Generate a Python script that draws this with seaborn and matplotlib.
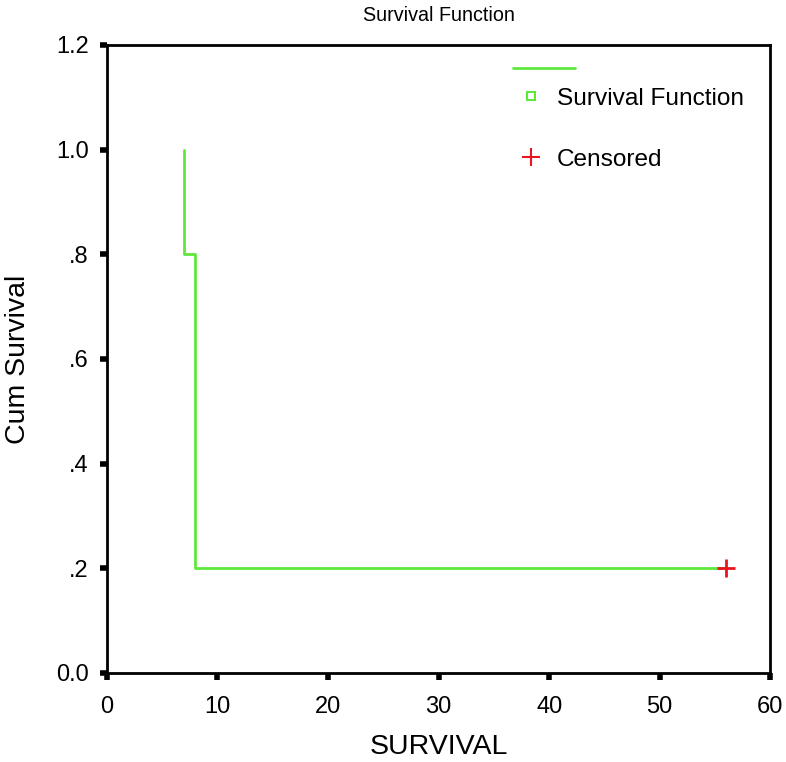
import matplotlib
matplotlib.use('Agg')
import matplotlib.pyplot as plt
from matplotlib.lines import Line2D
import seaborn as sns
import pandas as pd

# Kaplan-Meier step points (time, cumulative survival)
survival_time = [7, 7, 8, 8, 56]
cum_survival = [1.0, 0.8, 0.8, 0.2, 0.2]

# censored cases
censor_time = [56]
censor_surv = [0.2]

x_ticks = [0, 10, 20, 30, 40, 50, 60]
y_ticks = [0.0, 0.2, 0.4, 0.6, 0.8, 1.0, 1.2]
y_tick_labels = ['0.0', '.2', '.4', '.6', '.8', '1.0', '1.2']

green = '#5ee83c'
red = '#e8141e'

sns.set_theme(style='white')
plt.rcParams['font.family'] = ['Liberation Sans', 'DejaVu Sans']
plt.rcParams['text.color'] = 'black'
plt.rcParams['axes.labelcolor'] = 'black'
plt.rcParams['xtick.color'] = 'black'
plt.rcParams['ytick.color'] = 'black'

km = pd.DataFrame({'time': survival_time, 'surv': cum_survival})
cens = pd.DataFrame({'time': censor_time, 'surv': censor_surv})

fig = plt.figure(figsize=(7.86, 7.62), dpi=100)
ax = fig.add_axes([0.136, 0.117, 0.844, 0.824])

sns.lineplot(data=km, x='time', y='surv', sort=False, estimator=None,
             color=green, linewidth=2, ax=ax)
sns.scatterplot(data=cens, x='time', y='surv', marker='+', s=170,
                color=red, linewidth=2, ax=ax, zorder=3)

ax.set_xlim(0, 60)
ax.set_ylim(0, 1.2)
ax.set_xticks(x_ticks)
ax.set_yticks(y_ticks)
ax.set_yticklabels(y_tick_labels)
ax.tick_params(axis='both', direction='out', length=5, width=4,
               labelsize=17, bottom=True, left=True)
ax.tick_params(axis='x', pad=12)
ax.tick_params(axis='y', pad=8)

for sp in ax.spines.values():
    sp.set_visible(True)
    sp.set_color('black')
    sp.set_linewidth(2)

ax.set_title('Survival Function', fontsize=14.2, pad=17)
ax.set_xlabel('SURVIVAL', fontsize=20.5, labelpad=11)
ax.set_ylabel('Cum Survival', fontsize=20.5, labelpad=18)

# legend: a separate line sample, then square and plus entries
h_line = Line2D([], [], color=green, linewidth=2)
h_sq = Line2D([], [], color=green, marker='s', markersize=6, markerfacecolor='white',
              markeredgewidth=1.5, linestyle='none')
h_plus = Line2D([], [], color=red, marker='+', markersize=13, markeredgewidth=1.5,
                linestyle='none')
common = dict(loc='center left', frameon=False, fontsize=17.6, borderpad=0,
              borderaxespad=0, handletextpad=0.6)
leg1 = ax.legend([h_line], [''], bbox_to_anchor=(0.612, 0.960),
                 handlelength=2.55, **common)
ax.add_artist(leg1)
leg2 = ax.legend([h_sq], ['Survival Function'], bbox_to_anchor=(0.621, 0.914),
                 handlelength=0.97, **common)
ax.add_artist(leg2)
ax.legend([h_plus], ['Censored'], bbox_to_anchor=(0.621, 0.817),
          handlelength=0.97, **common)

plt.savefig('out.png', dpi=100)
